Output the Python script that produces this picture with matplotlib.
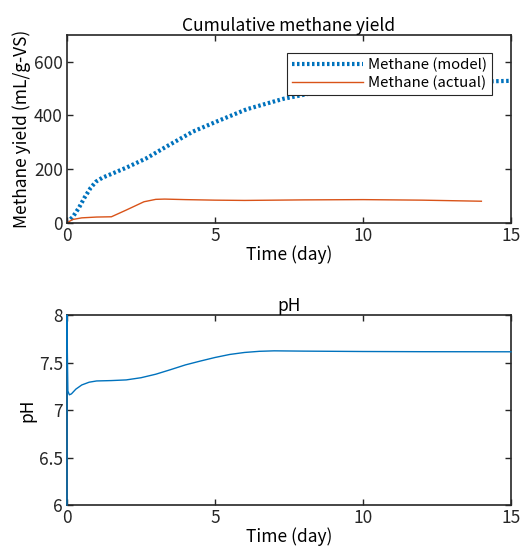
import matplotlib
matplotlib.use("Agg")
import matplotlib.pyplot as plt
import numpy as np

plt.rcParams['font.family'] = ['Noto Sans CJK JP', 'DejaVu Sans']

# Cumulative methane yield (model)
model_t = [0, 0.2, 0.4, 0.6, 0.8, 0.98, 1.2, 1.55, 2.0, 2.68, 3.36, 4.26, 5.05, 6.07, 7.31, 8.5, 10, 11, 12, 13, 14.2, 15]
model_y = [0, 22, 55, 95, 130, 153, 168, 184, 205, 240, 284, 340, 377, 423, 462, 488, 505, 514, 520, 524, 527, 529]

# Cumulative methane yield (actual)
act_t = [0, 0.2, 0.5, 1.0, 1.5, 2.0, 2.6, 3.0, 3.3, 4.0, 5.0, 6.0, 8.0, 10.0, 12.0, 14.0]
act_y = [0, 12, 18, 21, 22, 47, 78, 87, 88, 86, 84, 83, 85, 86, 84, 80]

# pH
ph_t = [0, 0.005, 0.012, 0.03, 0.08, 0.15, 0.3, 0.5, 0.75, 1.0, 1.5, 2.0, 2.5, 3.0, 3.5, 4.0, 4.5, 5.0, 5.5, 6.0, 6.5, 7.0, 8.0, 10.0, 12.0, 15.0]
ph_y = [6.0, 8.0, 7.6, 7.2, 7.16, 7.17, 7.22, 7.264, 7.293, 7.306, 7.31, 7.317, 7.34, 7.377, 7.425, 7.475, 7.515, 7.553, 7.585, 7.606, 7.618, 7.623, 7.62, 7.616, 7.614, 7.613]

xticks = [0, 5, 10, 15]

fig = plt.figure(figsize=(5.25, 5.52), dpi=100)
ax1 = fig.add_axes([0.1276, 0.5966, 0.8457, 0.3400])
ax2 = fig.add_axes([0.1276, 0.0851, 0.8457, 0.3442])

fs = 12.5
for ax in (ax1, ax2):
    ax.tick_params(direction='in', top=True, right=True, labelsize=fs, length=4, width=1, colors='#262626', pad=3)
    for s in ax.spines.values():
        s.set_linewidth(1.2)
        s.set_color('#262626')
    ax.set_xlim(0, 15)
    ax.set_xticks(xticks)
    ax.set_xlabel('Time (day)', fontsize=fs, labelpad=0)

ax1.plot(model_t, model_y, color='#0072BD', linestyle=(0, (0.6, 0.6)), linewidth=3, label='Methane (model)')
ax1.plot(act_t, act_y, color='#D95319', linewidth=1, label='Methane (actual)')
ax1.set_ylim(0, 700)
ax1.set_yticks([0, 200, 400, 600])
ax1.set_ylabel('Methane yield (mL/g-VS)', fontsize=fs, labelpad=2)
ax1.set_title('Cumulative methane yield', fontsize=fs, pad=3)
leg = ax1.legend(loc='upper right', bbox_to_anchor=(0.958, 0.905), fontsize=10.8, fancybox=False,
                 edgecolor='#262626', framealpha=1, borderpad=0.35, handlelength=4.7, labelspacing=0.2,
                 handletextpad=0.35, borderaxespad=0)
leg.get_frame().set_linewidth(0.8)

ax2.plot(ph_t, ph_y, color='#0072BD', linewidth=1, zorder=3, clip_on=False)
ax2.set_ylim(6, 8)
ax2.set_yticks([6, 6.5, 7, 7.5, 8])
ax2.set_yticklabels(['6', '6.5', '7', '7.5', '8'])
ax2.set_ylabel('pH', fontsize=fs, labelpad=2)
ax2.set_title('pH', fontsize=fs, pad=3)

fig.savefig('out.png', dpi=100)
